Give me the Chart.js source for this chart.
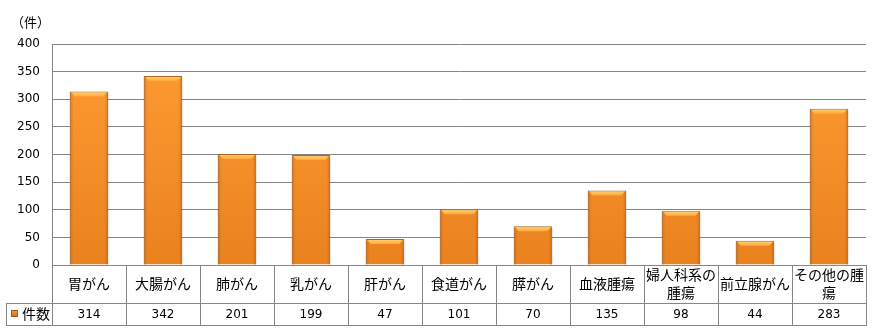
<!DOCTYPE html>
<html>
<head>
<meta charset="utf-8">
<script src="https://cdn.jsdelivr.net/npm/chart.js@4"></script>
<style>
  html, body { margin: 0; padding: 0; background: #fff; }
  #wrap { width: 882px; height: 335px; }
</style>
</head>
<body>
<div id="wrap"><canvas id="myChart"></canvas></div>
<script>
var categories = ["胃がん", "大腸がん", "肺がん", "乳がん", "肝がん", "食道がん", "膵がん", "血液腫瘍", "婦人科系の腫瘍", "前立腺がん", "その他の腫瘍"];
var counts = [314, 342, 201, 199, 47, 101, 70, 135, 98, 44, 283];
var seriesName = "件数";
var yTicks = [0, 50, 100, 150, 200, 250, 300, 350, 400];
var unitLabel = "（件）";

var jpFont = '"Noto Sans CJK JP", "Noto Sans", sans-serif';
var numFont = '"DejaVu Sans", sans-serif';
var lineColor = '#868686';

// wrap a label by characters to fit a cell
function wrapText(ctx, text, maxW) {
    var lines = [], cur = '';
    for (var i = 0; i < text.length; i++) {
        var t = cur + text[i];
        if (ctx.measureText(t).width > maxW && cur) {
            lines.push(cur);
            cur = text[i];
        } else {
            cur = t;
        }
    }
    if (cur) lines.push(cur);
    return lines;
}

var extras = {
    id: 'extras',
    afterDatasetsDraw: function(chart) {
        var ctx = chart.ctx;
        var meta = chart.getDatasetMeta(0);
        ctx.save();
        meta.data.forEach(function(bar) {
            var l = bar.x - bar.width / 2, r = bar.x + bar.width / 2, t = bar.y;
            var h = Math.min(5, bar.base - t);
            // top bevel
            var g = ctx.createLinearGradient(0, t, 0, t + h);
            g.addColorStop(0, '#ffd77a');
            g.addColorStop(1, '#ffa83a');
            ctx.fillStyle = g;
            ctx.beginPath();
            ctx.moveTo(l + 1, t + 1);
            ctx.lineTo(r - 1, t + 1);
            ctx.lineTo(r - 5, t + h);
            ctx.lineTo(l + 5, t + h);
            ctx.closePath();
            ctx.fill();
            // side shading
            var sg = ctx.createLinearGradient(l, 0, r, 0);
            sg.addColorStop(0, 'rgba(150,70,10,0.35)');
            sg.addColorStop(0.1, 'rgba(150,70,10,0)');
            sg.addColorStop(0.9, 'rgba(150,70,10,0)');
            sg.addColorStop(1, 'rgba(150,70,10,0.35)');
            ctx.fillStyle = sg;
            ctx.fillRect(l, t + 1, r - l, bar.base - t - 1);
        });
        ctx.restore();
    },
    afterDraw: function(chart) {
        var ctx = chart.ctx;
        var area = chart.chartArea;
        var x = chart.scales.x;
        var n = categories.length;
        var step = (area.right - area.left) / n;
        var rowTop = area.bottom, rowMid = area.bottom + 38, rowBot = area.bottom + 60;
        var tableLeft = 6;
        ctx.save();
        ctx.strokeStyle = lineColor;
        ctx.lineWidth = 1;
        ctx.beginPath();
        // horizontal lines
        ctx.moveTo(area.left, rowTop + 0.5); ctx.lineTo(area.right, rowTop + 0.5);
        ctx.moveTo(tableLeft, rowMid + 0.5); ctx.lineTo(area.right, rowMid + 0.5);
        ctx.moveTo(tableLeft, rowBot + 0.5); ctx.lineTo(area.right, rowBot + 0.5);
        // vertical lines
        ctx.moveTo(tableLeft + 0.5, rowMid); ctx.lineTo(tableLeft + 0.5, rowBot + 1);
        for (var i = 0; i <= n; i++) {
            var vx = Math.round(area.left + i * step) + 0.5;
            ctx.moveTo(vx, i === 0 ? area.top : rowTop);
            ctx.lineTo(vx, rowBot + 1);
        }
        ctx.stroke();

        // category labels
        ctx.fillStyle = '#000';
        ctx.textAlign = 'center';
        ctx.textBaseline = 'middle';
        ctx.font = '14px ' + jpFont;
        categories.forEach(function(c, i) {
            var cx = x.getPixelForValue(i);
            var lines = wrapText(ctx, c, step - 4);
            var lh = 18;
            var y0 = (rowTop + rowMid) / 2 - (lines.length - 1) * lh / 2;
            lines.forEach(function(s, j) {
                ctx.fillText(s, cx, y0 + j * lh);
            });
        });

        // values
        ctx.font = '12px ' + numFont;
        counts.forEach(function(v, i) {
            ctx.fillText(String(v), x.getPixelForValue(i), (rowMid + rowBot) / 2 + 1);
        });

        // legend key + series name
        var ky = (rowMid + rowBot) / 2;
        var kg = ctx.createLinearGradient(0, ky - 4, 0, ky + 4);
        kg.addColorStop(0, '#f5a040');
        kg.addColorStop(1, '#c8681a');
        ctx.fillStyle = kg;
        ctx.fillRect(11, ky - 4, 7, 7);
        ctx.strokeStyle = '#a5561a';
        ctx.strokeRect(11.5, ky - 3.5, 6, 6);
        ctx.fillStyle = '#000';
        ctx.textAlign = 'left';
        ctx.font = '14px ' + jpFont;
        ctx.fillText(seriesName, 22, ky);

        // unit label
        ctx.font = '13px ' + jpFont;
        ctx.fillText(unitLabel, 11, 22);
        ctx.restore();
    }
};

var ctx = document.getElementById("myChart").getContext('2d');
var myChart = new Chart(ctx, {
    type: 'bar',
    data: {
        labels: categories,
        datasets: [{
            label: seriesName,
            data: counts,
            backgroundColor: function(context) {
                var chart = context.chart;
                if (!chart.chartArea) return '#f7962f';
                var g = chart.ctx.createLinearGradient(0, chart.chartArea.top, 0, chart.chartArea.bottom);
                g.addColorStop(0, '#ff9c33');
                g.addColorStop(1, '#ea821f');
                return g;
            },
            borderColor: '#b4631c',
            borderWidth: 1,
            categoryPercentage: 0.52,
            barPercentage: 1.0
        }]
    },
    options: {
        responsive: true,
        maintainAspectRatio: false,
        animation: false,
        layout: { padding: { left: 0, top: 44, right: 16, bottom: 0 } },
        plugins: {
            legend: { display: false },
            tooltip: { enabled: false }
        },
        scales: {
            x: {
                grid: { display: false },
                border: { display: false },
                ticks: { display: false },
                afterFit: function(scale) { scale.height = 70; }
            },
            y: {
                min: 0,
                max: 400,
                afterBuildTicks: function(scale) {
                    scale.ticks = yTicks.map(function(v) { return { value: v }; });
                },
                grid: { color: lineColor, drawTicks: false },
                border: { color: lineColor },
                ticks: {
                    color: '#000',
                    padding: 12,
                    font: { family: numFont, size: 12 }
                },
                afterFit: function(scale) { scale.width = 52; }
            }
        }
    },
    plugins: [extras]
});
</script>
</body>
</html>
